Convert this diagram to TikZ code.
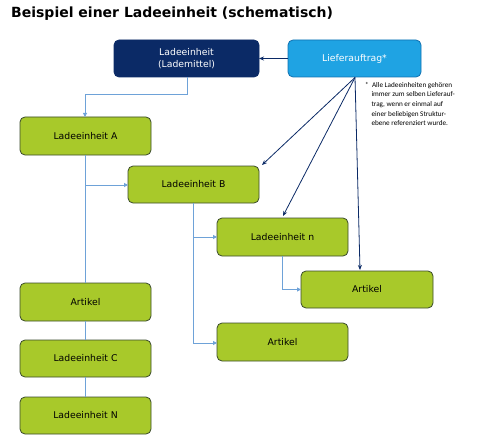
\documentclass[tikz,border=0pt]{standalone}
\usepackage{fontspec}
\setmainfont{DejaVu Sans}
\newfontfamily\notefont{Carlito}
\usetikzlibrary{arrows.meta}
\definecolor{navy}{HTML}{0B2A66}
\definecolor{skyb}{HTML}{1FA3E3}
\definecolor{skybd}{HTML}{1070B0}
\definecolor{lime}{HTML}{A8C92A}
\definecolor{limed}{HTML}{3A4A2A}
\definecolor{conn}{HTML}{6EA2D8}
\tikzset{
  box/.style={draw=limed, line width=0.8pt, fill=lime, rounded corners=5pt},
  topbox/.style={draw=navy, line width=0.8pt, fill=navy, rounded corners=5pt},
  lbox/.style={draw=skybd, line width=0.8pt, fill=skyb, rounded corners=5pt},
  lbl/.style={font=\fontsize{9.3}{11}\selectfont, text=black},
  wlbl/.style={font=\fontsize{9.3}{11.5}\selectfont, text=white, align=center},
  tree/.style={draw=conn, line width=0.9pt},
  treearr/.style={tree, -{Triangle[length=4pt,width=4pt]}},
  navyarr/.style={draw=navy, line width=0.8pt, -{Stealth[length=5pt,width=4pt]}}
}
\begin{document}
\begin{tikzpicture}[x=1pt,y=-1pt]
\useasboundingbox (0,0) rectangle (500,441);
\node[anchor=base west, inner sep=0pt, font=\bfseries\fontsize{14}{16}\selectfont] (title) at (11,18) {Beispiel einer Ladeeinheit (schematisch)};
% boxes
\path[topbox] (114,40) rectangle (259,77);
\node[wlbl] (lm) at (186.5,58.5) {Ladeeinheit\\(Lademittel)};
\coordinate (lmb) at (187,77);
\path[lbox] (288,40) rectangle (421,77);
\node[wlbl] (lf) at (354.5,58.5) {Lieferauftrag*};
\coordinate (lfl) at (288,58.5);
\coordinate (lml) at (259,58.5);
\coordinate (lfc) at (355,77.5);

\path[box] (20,117) rectangle (151,155);
\node[lbl] (a) at (85.5,136) {Ladeeinheit A};
\path[box] (128,166) rectangle (259,203);
\node[lbl] (b) at (193.5,184.5) {Ladeeinheit B};
\path[box] (217,218) rectangle (348,256);
\node[lbl] (n) at (282.5,237) {Ladeeinheit n};
\path[box] (301,271) rectangle (433,308);
\node[lbl] (art1) at (367,289.5) {Artikel};
\path[box] (217,323) rectangle (348,361);
\node[lbl] (art2) at (282.5,342) {Artikel};
\path[box] (20,283) rectangle (151,321);
\node[lbl] (art3) at (85.5,302) {Artikel};
\path[box] (20,340) rectangle (151,377);
\node[lbl] (c) at (85.5,358.5) {Ladeeinheit C};
\path[box] (20,397) rectangle (151,434);
\node[lbl] (nn) at (85.5,415.5) {Ladeeinheit N};

% connectors
\draw[navyarr] (lfl) -- (lml);
\draw[treearr] (lmb) -- (187,94) -- (85,94) -- (85,117);
\draw[tree] (85,155) -- (85,283);
\draw[treearr] (85,185) -- (128,185);
\draw[tree] (85,321) -- (85,340);
\draw[tree] (85,377) -- (85,397);
\draw[tree] (193,203) -- (193,343);
\draw[treearr] (193,237) -- (217,237);
\draw[treearr] (193,343) -- (217,343);
\draw[treearr] (282,256) -- (282,289.5) -- (301,289.5);
\draw[navyarr] (lfc) -- (262,165);
\draw[navyarr] (lfc) -- (283,216);
\draw[navyarr] (lfc) -- (360,270);

% note
\node[anchor=north west, font=\notefont\fontsize{7.2}{9.6}\selectfont, align=left, inner sep=0pt] (note) at (365,82)
 {*\ \ Alle Ladeeinheiten gehören\\
 \hspace*{6.3pt}immer zum selben Lieferauf-\\
 \hspace*{6.3pt}trag, wenn er einmal auf\\
 \hspace*{6.3pt}einer beliebigen Struktur-\\
 \hspace*{6.3pt}ebene referenziert wurde.};
\end{tikzpicture}
\end{document}
